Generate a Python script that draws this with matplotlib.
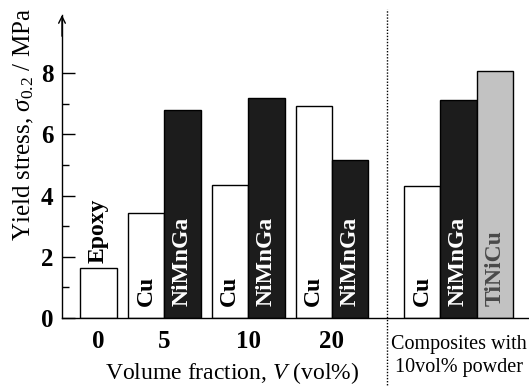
import matplotlib
matplotlib.use("Agg")
import matplotlib.pyplot as plt
import matplotlib.transforms as mtransforms

plt.rcParams['font.family'] = ['Liberation Serif', 'DejaVu Serif']
plt.rcParams['mathtext.fontset'] = 'custom'
plt.rcParams['mathtext.rm'] = 'Liberation Serif'
plt.rcParams['mathtext.it'] = 'Liberation Serif:italic'

# ---- data ----
group_labels = ['0', '5', '10', '20']
group_materials = [['Epoxy'], ['Cu', 'NiMnGa'], ['Cu', 'NiMnGa'], ['Cu', 'NiMnGa']]
group_values = [[1.64], [3.42, 6.79], [4.36, 7.18], [6.92, 5.15]]
comp_materials = ['Cu', 'NiMnGa', 'TiNiCu']
comp_values = [4.32, 7.12, 8.07]
y_ticks = [0, 2, 4, 6, 8]

styles = {
    'Epoxy': dict(face='white', text='black', inside=False),
    'Cu': dict(face='white', text='black', inside=True),
    'NiMnGa': dict(face='#1c1c1c', text='white', inside=True),
    'TiNiCu': dict(face='#c2c2c2', text='#4a4a4a', inside=True),
}

fig = plt.figure(figsize=(5.29, 3.87), dpi=100)
W, H = 529, 387
ax_left, ax_bottom_px, ax_top_px = 62, 318, 15
ax = fig.add_axes([ax_left / W, (H - ax_bottom_px) / H, (W - ax_left) / W,
                   (ax_bottom_px - ax_top_px) / H])
ax.set_xlim(0, 12.8)
ax.set_ylim(0, 9.9)

bw = 1.0
gap = 0.3
label_fs = 17

def draw_bar(x, v, mat):
    st = styles[mat]
    ax.bar(x, v, width=bw, color=st['face'], edgecolor='black', linewidth=1.0,
           align='center', zorder=2)
    if st['inside']:
        ax.text(x, 0.38, mat, rotation=90, ha='center', va='bottom',
                color=st['text'], fontsize=label_fs, fontweight='bold', zorder=3)
    else:
        ax.text(x, v + 0.15, mat, rotation=90, ha='center', va='bottom',
                color=st['text'], fontsize=label_fs, fontweight='bold', zorder=3)

x = 0.5
tick_pos = []
for lab, mats, vals in zip(group_labels, group_materials, group_values):
    start = x
    for m, v in zip(mats, vals):
        draw_bar(x + bw / 2, v, m)
        x += bw
    tick_pos.append((start + x) / 2)
    x += gap

sep_x = x + 0.2
x = sep_x + 0.47
comp_start = x
for m, v in zip(comp_materials, comp_values):
    draw_bar(x + bw / 2, v, m)
    x += bw
comp_center = (comp_start + x) / 2

# separator dotted line
trans = mtransforms.blended_transform_factory(ax.transData, ax.transAxes)
ax.plot([sep_x, sep_x], [-0.24, 1.02], transform=trans, color='black',
        linestyle=(0, (1, 1.2)), linewidth=1.0, clip_on=False, zorder=1)

# axes styling
for s in ['top', 'right']:
    ax.spines[s].set_visible(False)
ax.spines['left'].set_linewidth(1.0)
ax.spines['bottom'].set_linewidth(1.0)
ax.set_yticks(y_ticks)
ax.set_yticklabels([str(t) for t in y_ticks], fontsize=18, fontweight='bold')
ax.set_yticks([1, 3, 5, 7], minor=True)
ax.tick_params(axis='y', which='major', direction='in', length=9, width=1.0, pad=6)
ax.tick_params(axis='y', which='minor', direction='in', length=5, width=1.0)
ax.set_xticks(tick_pos)
ax.set_xticklabels(group_labels, fontsize=18, fontweight='bold')
ax.tick_params(axis='x', length=0, pad=9)

# arrow on y axis
ax.annotate('', xy=(0, 1.0), xytext=(0, 0.93), xycoords='axes fraction',
            arrowprops=dict(arrowstyle='->', lw=1.0, color='black',
                            mutation_scale=12, shrinkA=0, shrinkB=0))

fig.text(24 / W, 1 - 125 / H, r'Yield stress, $\sigma_{0.2}$ / MPa', rotation=90,
         ha='center', va='center', fontsize=18)
ax.text(4.66, -0.18, r'Volume fraction, $V$ (vol%)',
        transform=trans, ha='center', va='center', fontsize=17)
ax.text(comp_center, -0.125, 'Composites with\n10vol% powder', transform=trans,
        ha='center', va='center', fontsize=14.5, linespacing=1.3)

fig.savefig('out.png', dpi=100)
